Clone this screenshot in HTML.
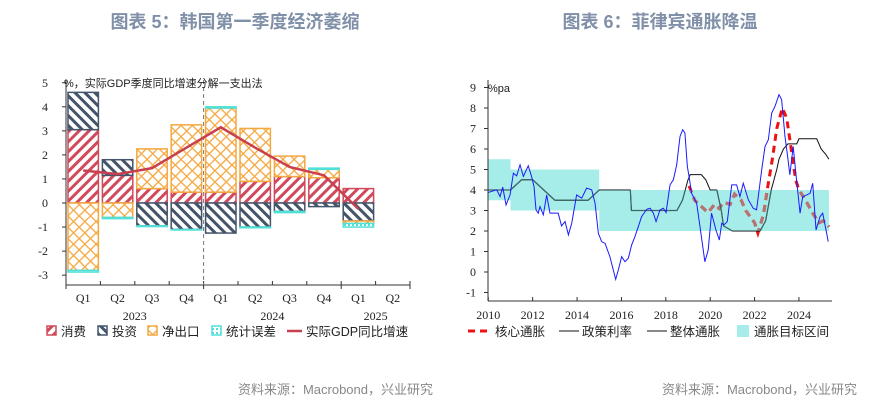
<!DOCTYPE html>
<html><head><meta charset="utf-8"><style>
body{margin:0;background:#fff;width:889px;height:405px;overflow:hidden;font-family:"Liberation Sans","Noto Sans CJK SC",sans-serif}
svg{position:absolute;left:0;top:0}
</style></head><body>
<svg id="s" width="889" height="405">
<defs>
<pattern id="pCons" width="7" height="7" patternUnits="userSpaceOnUse" patternTransform="rotate(45)"><rect width="7" height="7" fill="#fff"/><rect width="3" height="7" fill="#d04a5c"/></pattern>
<pattern id="pInv" width="7" height="7" patternUnits="userSpaceOnUse" patternTransform="rotate(-45)"><rect width="7" height="7" fill="#fff"/><rect width="3" height="7" fill="#44546a"/></pattern>
<pattern id="pNet" width="8" height="8" patternUnits="userSpaceOnUse" patternTransform="rotate(45)"><rect width="8" height="8" fill="#fff"/><rect width="1.3" height="8" fill="#f4a840"/><rect width="8" height="1.3" fill="#f4a840"/></pattern>
<pattern id="pStat" width="4" height="4" patternUnits="userSpaceOnUse"><rect width="4" height="4" fill="#fff"/><rect width="2" height="2" fill="#4fe0d8"/></pattern>
<clipPath id="bandClip"></clipPath>
</defs>
<text x="235" y="28" text-anchor="middle" font-size="18" font-weight="bold" fill="#8090a8">图表 5：韩国第一季度经济萎缩</text>
<text x="660" y="28" text-anchor="middle" font-size="18" font-weight="bold" fill="#8090a8">图表 6：菲律宾通胀降温</text>
<text x="433" y="394" text-anchor="end" font-size="13" fill="#888">资料来源：Macrobond，兴业研究</text>
<text x="857" y="394" text-anchor="end" font-size="13" fill="#888">资料来源：Macrobond，兴业研究</text>
<g id="c1"></g><g id="c2"></g>
</svg>
<script>
// ---- Chart 5 data ----
const quarters=["Q1","Q2","Q3","Q4","Q1","Q2","Q3","Q4","Q1","Q2"];
const yearsL=["2023","2024","2025"];
const consumption=[3.05,1.15,0.6,0.45,0.45,0.9,1.1,1.05,0.6];
const investment=[1.55,0.65,-0.95,-1.1,-1.25,-1.0,-0.35,-0.15,-0.75];
const netExports=[-2.8,-0.6,1.65,2.8,3.5,2.2,0.85,0.35,-0.1];
const statError=[-0.07,-0.05,-0.03,-0.02,0.05,-0.03,-0.05,0.05,-0.15];
const gdpGrowth=[1.35,1.2,1.45,2.3,3.15,2.3,1.5,1.15,-0.25];
const yTicksL=[5,4,3,2,1,0,-1,-2,-3];

// ---- Chart 6 data ----
const xTicksR=[2010,2012,2014,2016,2018,2020,2022,2024];
const yTicksR=[9,8,7,6,5,4,3,2,1,0,-1];
const headlineYears=[2010.00,2010.38,2010.53,2010.65,2010.80,2010.98,2011.13,2011.28,2011.43,2011.58,2011.80,2011.95,2012.06,2012.15,2012.25,2012.33,2012.48,2012.63,2012.78,2012.93,2013.15,2013.30,2013.46,2013.61,2013.76,2013.98,2014.21,2014.43,2014.66,2014.81,2014.96,2015.11,2015.26,2015.48,2015.74,2015.86,2016.01,2016.16,2016.31,2016.46,2016.61,2016.91,2017.14,2017.29,2017.44,2017.56,2017.74,2017.89,2018.01,2018.19,2018.34,2018.49,2018.64,2018.76,2018.86,2018.97,2019.06,2019.16,2019.39,2019.54,2019.76,2019.91,2020.06,2020.26,2020.41,2020.52,2020.62,2020.77,2020.97,2021.19,2021.34,2021.49,2021.72,2021.94,2022.09,2022.32,2022.47,2022.62,2022.77,2022.92,2023.10,2023.22,2023.37,2023.47,2023.59,2023.74,2023.89,2024.05,2024.17,2024.35,2024.50,2024.62,2024.77,2024.95,2025.07,2025.22,2025.32];
const headlineValues=[3.88,4.01,3.68,4.14,3.27,3.76,4.82,4.69,5.23,4.66,5.18,4.66,4.17,3.03,2.87,3.19,2.79,3.76,2.87,2.87,2.87,2.25,2.46,1.81,2.38,3.76,3.60,4.09,4.01,3.36,1.89,1.48,1.40,0.75,-0.36,0.10,0.75,0.50,0.67,1.32,1.73,2.70,3.06,3.11,2.87,2.46,3.03,3.11,2.90,4.25,4.50,5.23,6.61,6.94,6.78,5.15,4.58,3.84,3.36,2.21,0.50,1.07,2.87,2.05,1.56,2.38,2.30,2.46,4.25,4.25,3.68,4.33,3.52,3.11,3.03,4.98,6.12,6.45,7.75,8.08,8.65,8.40,6.61,5.80,4.74,6.12,4.50,2.87,3.68,3.76,3.84,4.33,2.05,2.70,2.87,2.05,1.48];
const coreYears=[2019.05,2019.3,2019.6,2019.9,2020.2,2020.4,2020.6,2020.9,2021.1,2021.4,2021.6,2021.8,2022.0,2022.15,2022.4,2022.6,2022.8,2023.0,2023.25,2023.45,2023.65,2023.85,2024.0,2024.3,2024.6,2024.9,2025.1,2025.35];
const coreValues=[4.2,3.5,3.2,2.9,3.3,3.1,3.4,3.3,3.8,3.5,3.0,2.7,2.4,1.9,2.8,4.2,5.5,7.0,8.0,7.5,6.0,4.5,4.0,3.5,2.9,2.4,2.5,2.2];
const policyYears=[2010,2011,2011.25,2011.5,2012,2012.25,2012.5,2012.75,2013,2014.5,2014.75,2015,2016.4,2016.45,2018.5,2018.75,2019,2019.1,2019.6,2019.8,2020,2020.3,2020.5,2020.6,2021,2022.25,2022.5,2022.75,2023,2023.1,2023.3,2023.5,2023.9,2024,2024.8,2025,2025.2,2025.35];
const policyValues=[4,4,4.25,4.5,4.5,4.25,4,3.75,3.5,3.5,3.75,4,4,3,3,3.5,4.5,4.75,4.75,4.5,4,4,3,2.25,2,2,2.5,4,5,5.5,6,6.25,6.25,6.5,6.5,6,5.75,5.5];
const bandStart=[2010,2011,2015];
const bandEnd=[2011,2015,2025.35];
const bandLow=[3.5,3,2];
const bandHigh=[5.5,5,4];

const NS='http://www.w3.org/2000/svg';
function mk(parent,tag,attrs,text){const e=document.createElementNS(NS,tag);for(const k in attrs)e.setAttribute(k,attrs[k]);if(text!==undefined)e.textContent=text;parent.appendChild(e);return e;}
const serif='"Liberation Serif","Noto Serif CJK SC",serif';
const cjk='"Liberation Sans","Noto Sans CJK SC",sans-serif';

// ===== Chart 5 =====
(function(){
const g=document.getElementById('c1');
const L=66,R=410,n=10,bw=(R-L)/n;
const y=v=>203-24.05*v;
const xc=i=>L+bw*(i+0.5);
yTicksL.forEach(t=>{
 const tk=mk(g,'line',{x1:62,x2:66,y1:y(t),y2:y(t),stroke:'#333'});
 
 const lb=mk(g,'text',{x:48,y:y(t)+4,'text-anchor':'end','font-size':12,'font-family':serif,fill:'#222'},t);
 
});
const series=[[consumption,'pCons','#d04a5c','consumption'],[investment,'pInv','#44546a','investment'],[netExports,'pNet','#f4a840','net-exports'],[statError,'pStat','#4fe0d8','stat-error']];
for(let i=0;i<consumption.length;i++){
 let pos=0,neg=0;
 series.forEach(([arr,pat,col,nm])=>{
  const v=arr[i];let a,b;
  if(v>=0){a=pos;b=pos+v;pos=b;}else{a=neg;b=neg+v;neg=b;}
  const top=y(Math.max(a,b)),h=Math.abs(y(a)-y(b));
  const r=mk(g,'rect',{x:xc(i)-bw/2+2,y:top,width:bw-4,height:Math.max(h,0.5),fill:'url(#'+pat+')',stroke:col,'stroke-width':1.5});
  
 });
}
const ax=mk(g,'line',{x1:66,x2:66,y1:80,y2:285,stroke:'#333'});

const xa=mk(g,'line',{x1:66,x2:R,y1:285,y2:285,stroke:'#333'});

for(let i=0;i<=n;i++){const big=(i%4===0)||i===n;const t=mk(g,'line',{x1:L+bw*i,x2:L+bw*i,y1:big?289:285,y2:281,stroke:'#333'});
 }
const dl=mk(g,'line',{x1:L+bw*4,x2:L+bw*4,y1:80,y2:285,stroke:'#777','stroke-dasharray':'4,3'});

quarters.forEach((q,i)=>{const t=mk(g,'text',{x:xc(i),y:302,'text-anchor':'middle','font-size':12,'font-family':serif,fill:'#222'},q);
 });
const yc=[xc(1.5),xc(5.5),xc(8.5)];
yearsL.forEach((yy,i)=>{const t=mk(g,'text',{x:yc[i],y:320,'text-anchor':'middle','font-size':12,'font-family':serif,fill:'#222'},yy);
 });
const pts=gdpGrowth.map((v,i)=>xc(i)+','+y(v)).join(' ');
const pl=mk(g,'polyline',{points:pts,fill:'none',stroke:'#c8404e','stroke-width':2.5});

const ti=mk(g,'text',{x:64,y:87,'font-size':11,'font-family':cjk,fill:'#222'},'%，实际GDP季度同比增速分解一支出法');

const leg=[['消费','url(#pCons)','#d04a5c',47],['投资','url(#pInv)','#44546a',98],['净出口','url(#pNet)','#f4a840',148],['统计误差','url(#pStat)','#4fe0d8',212]];
leg.forEach(([lab,f,c,x])=>{const r=mk(g,'rect',{x:x,y:326,width:9,height:9,fill:f,stroke:c,'stroke-width':1.5});
 
 const t=mk(g,'text',{x:x+14,y:336,'font-size':12.5,'font-family':cjk,fill:'#222'},lab);
 });
const ll=mk(g,'line',{x1:287,x2:302,y1:331,y2:331,stroke:'#c8404e','stroke-width':2.5});

const lt=mk(g,'text',{x:306,y:336,'font-size':12.5,'font-family':cjk,fill:'#222'},'实际GDP同比增速');

})();

// ===== Chart 6 =====
(function(){
const g=document.getElementById('c2');
const x=v=>488.3+(v-2010)*22.19;
const y=v=>272-20.5*v;
const line=(xs,vs)=>xs.map((a,i)=>x(a)+','+y(vs[i])).join(' ');
const clip=document.getElementById('bandClip');
bandStart.forEach((s,i)=>{
 const r=mk(g,'rect',{x:x(s),y:y(bandHigh[i]),width:x(bandEnd[i])-x(s),height:y(bandLow[i])-y(bandHigh[i]),fill:'#a6ede9'});
 
 mk(clip,'rect',{x:x(s),y:y(bandHigh[i]),width:x(bandEnd[i])-x(s),height:y(bandLow[i])-y(bandHigh[i])});
});
const core=mk(g,'polyline',{points:line(coreYears,coreValues),fill:'none',stroke:'#ee1111','stroke-width':3,'stroke-dasharray':'7,5'});

const core2=mk(g,'polyline',{points:line(coreYears,coreValues),fill:'none',stroke:'#b87272','stroke-width':3,'stroke-dasharray':'7,5','clip-path':'url(#bandClip)'});

const pol=mk(g,'polyline',{points:line(policyYears,policyValues),fill:'none',stroke:'#111','stroke-width':1});

const pol2=mk(g,'polyline',{points:line(policyYears,policyValues),fill:'none',stroke:'#3e6664','stroke-width':1.2,'clip-path':'url(#bandClip)'});

const hl=mk(g,'polyline',{points:line(headlineYears,headlineValues),fill:'none',stroke:'#1a1aff','stroke-width':1});

const ax=mk(g,'line',{x1:488,x2:488,y1:80,y2:301,stroke:'#333'});

const xa=mk(g,'line',{x1:488,x2:832,y1:301,y2:301,stroke:'#333'});

yTicksR.forEach(t=>{const tk=mk(g,'line',{x1:484,x2:488,y1:y(t),y2:y(t),stroke:'#333'});
 
 const lb=mk(g,'text',{x:476,y:y(t)+4,'text-anchor':'end','font-size':12,'font-family':serif,fill:'#222'},t);
 });
xTicksR.forEach(t=>{const tk=mk(g,'line',{x1:x(t),x2:x(t),y1:301,y2:297,stroke:'#333'});
 
 const lb=mk(g,'text',{x:x(t),y:319,'text-anchor':'middle','font-size':12,'font-family':serif,fill:'#222'},t);
 });
const u=mk(g,'text',{x:488,y:92,'font-size':11,'font-family':cjk,fill:'#222'},'%pa');

const s1=mk(g,'line',{x1:468,x2:488,y1:331,y2:331,stroke:'#ee1111','stroke-width':3,'stroke-dasharray':'7,5'});

const s2=mk(g,'line',{x1:559,x2:579,y1:331,y2:331,stroke:'#111','stroke-width':1});

const s3=mk(g,'line',{x1:647,x2:667,y1:331,y2:331,stroke:'#111','stroke-width':1});

const s4=mk(g,'rect',{x:737,y:325,width:12,height:12,fill:'#a6ede9'});

[['核心通胀',495],['政策利率',582],['整体通胀',670],['通胀目标区间',754]].forEach(([lab,xx])=>{
 const t=mk(g,'text',{x:xx,y:336,'font-size':12.5,'font-family':cjk,fill:'#222'},lab);
 });
})();
</script>
</body></html>
